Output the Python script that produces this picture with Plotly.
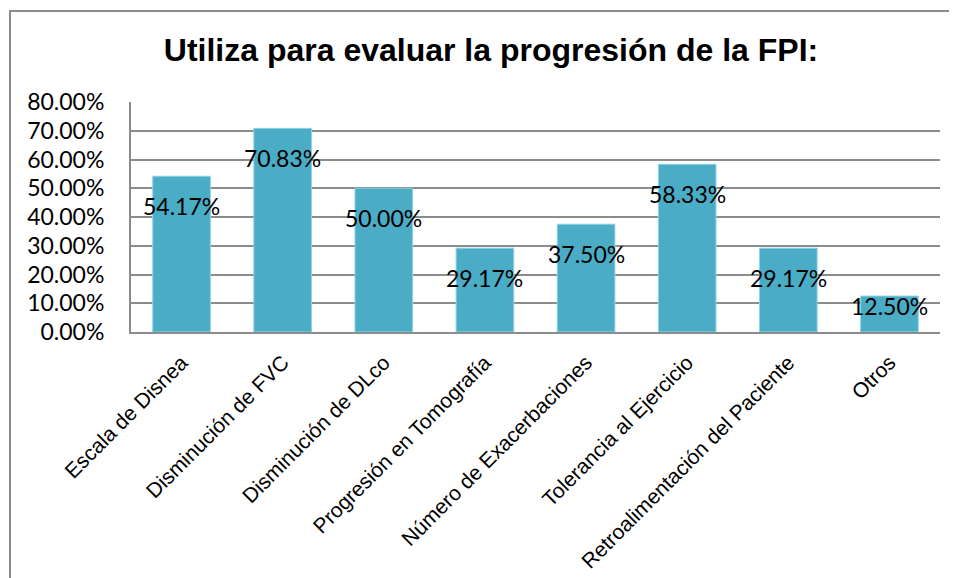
import plotly.graph_objects as go

# data
categorias = [
    "Escala de Disnea",
    "Disminución de FVC",
    "Disminución de DLco",
    "Progresión en Tomografía",
    "Número de Exacerbaciones",
    "Tolerancia al Ejercicio",
    "Retroalimentación del Paciente",
    "Otros",
]
porcentajes = [54.17, 70.83, 50.00, 29.17, 37.50, 58.33, 29.17, 12.50]
y_ticks = [0, 10, 20, 30, 40, 50, 60, 70, 80]
y_labels = [f"{v:.2f}%" for v in y_ticks]

# the page body adds an 8px margin, so the figure is a bit smaller than the window
W, H = 949, 570
ML, MR, MT, MB = 123, 17, 94, 246
plot_w = W - ML - MR
plot_h = H - MT - MB
y_max = 80
px_per_unit = plot_h / y_max

fig = go.Figure(
    go.Bar(
        x=categorias,
        y=porcentajes,
        marker=dict(color="#4BACC6", line=dict(color="#8fd2e2", width=1)),
        hoverinfo="x+y",
    )
)

# labels inside the bar top (like Excel "inside end")
for c, v in zip(categorias, porcentajes):
    bar_px = v * px_per_unit
    shift = min(30, bar_px - 26)
    fig.add_annotation(
        x=c, y=v, yshift=-shift, text=f"{v:.2f}%", showarrow=False,
        font=dict(family="Lato, Carlito, sans-serif", size=23, color="#000000"),
        xanchor="center", yanchor="middle",
    )

# outer chart frame
fig.add_shape(
    type="rect", xref="paper", yref="paper",
    x0=(2 - ML) / plot_w, x1=(W + 20 - ML) / plot_w,
    y0=-(MB + 20) / plot_h, y1=(H - MB - 3) / plot_h,
    line=dict(color="#8c8c8c", width=2), layer="below",
)

fig.update_layout(
    width=W, height=H,
    margin=dict(l=ML, r=MR, t=MT, b=MB),
    paper_bgcolor="white", plot_bgcolor="white",
    title=dict(
        text="<b>Utiliza para evaluar la progresión de la FPI:</b>",
        x=483 / W, xanchor="center", y=1 - 42 / H, yanchor="middle",
        font=dict(family="Liberation Sans, Arial, sans-serif", size=32, color="#000000"),
    ),
    bargap=0.43,
    showlegend=False,
    xaxis=dict(
        tickangle=-45, automargin=False,
        tickfont=dict(family="Liberation Sans, Arial, sans-serif", size=21, color="#000000"),
        showline=True, linecolor="#8c8c8c", linewidth=2,
        ticks="", showgrid=False, ticklabelstandoff=8,
    ),
    yaxis=dict(
        range=[0, y_max], automargin=False,
        tickvals=y_ticks, ticktext=y_labels,
        tickfont=dict(family="Lato, Carlito, sans-serif", size=23, color="#000000"),
        showgrid=True, gridcolor="#8c8c8c", gridwidth=2,
        showline=True, linecolor="#8c8c8c", linewidth=2,
        zeroline=False, ticks="", ticklabelstandoff=20,
    ),
)

fig.write_html("out.html")
